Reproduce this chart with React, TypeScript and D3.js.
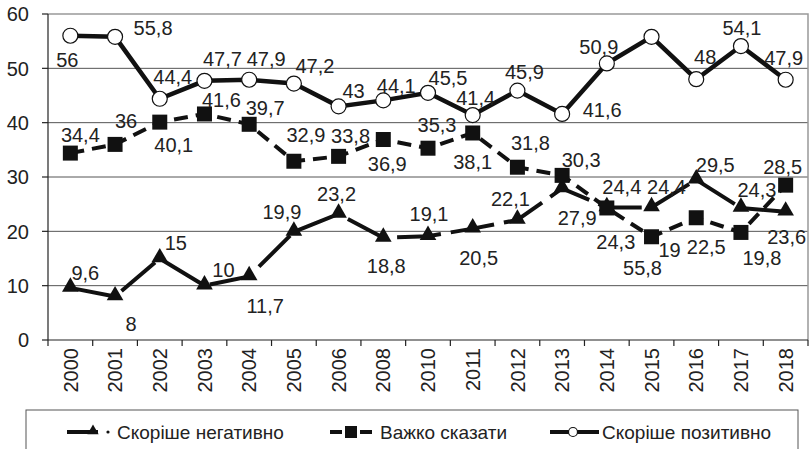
import React from 'react';
import * as d3 from 'd3';

// Survey years (no 2007 / 2009 waves)
const years = [
  '2000', '2001', '2002', '2003', '2004', '2005', '2006', '2008', '2010',
  '2011', '2012', '2013', '2014', '2015', '2016', '2017', '2018',
];

// Series values, %
const negative = [9.6, 8, 15, 10, 11.7, 19.9, 23.2, 18.8, 19.1, 20.5, 22.1, 27.9, 24.4, 24.4, 29.5, 24.3, 23.6];
const hardToSay = [34.4, 36, 40.1, 41.6, 39.7, 32.9, 33.8, 36.9, 35.3, 38.1, 31.8, 30.3, 24.3, 19, 22.5, 19.8, 28.5];
const positive = [56, 55.8, 44.4, 47.7, 47.9, 47.2, 43, 44.1, 45.5, 41.4, 45.9, 41.6, 50.9, 55.8, 48, 54.1, 47.9];

const yTicks = [0, 10, 20, 30, 40, 50, 60];

const legendNames = ['Скоріше негативно', 'Важко сказати', 'Скоріше позитивно'];

// Where each data label sits relative to its point (dx, dy of the text centre)
const negativeLabelPos: [number, number][] = [
  [15, -15], [16, 27], [16, -16], [19, -16], [16, 29], [-12, -20], [-2, -20], [3, 28], [1, -22],
  [6, 29], [-7, -21], [15, 29], [15, -21], [15, -21], [19, -15], [16, -18], [1, 25],
];
const hardLabelPos: [number, number][] = [
  [10, -18], [11, -24], [14, 23], [17, -14], [16, -16], [12, -26], [12, -21], [4, 24], [9, -23],
  [0, 29], [13, -24], [19, -16], [9, 34], [18, 13], [10, 29], [21, 25], [-3, -18],
];
const positiveLabelPos: [number, number][] = [
  [-3, 24], [38, -9], [13, -22], [18, -22], [17, -21], [21, -18], [15, -16], [13, -15], [20, -15],
  [3, -17], [7, -19], [40, -4], [-8, -17], [-9, 231], [9, -22], [1, -18], [-2, -22],
];

const W = 810;
const H = 449;
const plot = { left: 48, right: 808, top: 14, bottom: 340 };
const font = '"Liberation Sans", Arial, sans-serif';

const fmt = (v: number) => String(v).replace('.', ',');

const App: React.FC = () => {
  const x = d3.scaleBand<string>().domain(years).range([plot.left, plot.right]);
  const y = d3.scaleLinear().domain([0, 60]).range([plot.bottom, plot.top]);
  const cx = (i: number) => (x(years[i]) ?? 0) + x.bandwidth() / 2;

  const line = d3.line<number>()
    .x((_, i) => cx(i))
    .y((d) => y(d));

  const triangle = d3.symbol().type(d3.symbolTriangle).size(120)() ?? '';
  const legendTriangle = d3.symbol().type(d3.symbolTriangle).size(55)() ?? '';

  const labels = (vals: number[], pos: [number, number][], key: string) => vals.map((v, i) => (
    <text
      key={`${key}-${i}`}
      x={cx(i) + pos[i][0]}
      y={y(v) + pos[i][1]}
      dy="0.36em"
      textAnchor="middle"
      fontSize={20}
      fill="#222"
    >
      {fmt(v)}
    </text>
  ));

  const legendY = 432;

  return (
    <svg
      width={W}
      height={H}
      style={{ position: 'absolute', left: 0, top: 0, background: '#fff' }}
      fontFamily={font}
    >
      <rect width={W} height={H} fill="#fff" />

      {/* grid */}
      {yTicks.filter((t) => t > 0 && t < 60).map((t) => (
        <line key={t} x1={plot.left} x2={plot.right} y1={y(t)} y2={y(t)} stroke="#555" strokeWidth={1} />
      ))}
      {/* frame: top + right */}
      <path
        d={`M${plot.left},${plot.top}H${plot.right}V${plot.bottom}`}
        fill="none"
        stroke="#999"
        strokeWidth={1.5}
      />

      {/* y axis */}
      <line x1={plot.left} x2={plot.left} y1={plot.top} y2={plot.bottom} stroke="#222" strokeWidth={1.2} />
      {yTicks.map((t) => (
        <g key={t}>
          <line x1={plot.left - 6} x2={plot.left} y1={y(t)} y2={y(t)} stroke="#222" strokeWidth={1.2} />
          <text x={29} y={y(t)} dy="0.36em" textAnchor="end" fontSize={20} fill="#222">{t}</text>
        </g>
      ))}

      {/* x axis */}
      <line x1={plot.left} x2={plot.right} y1={plot.bottom} y2={plot.bottom} stroke="#222" strokeWidth={1.2} />
      {years.map((yr) => (
        <line
          key={yr}
          x1={(x(yr) ?? 0)}
          x2={(x(yr) ?? 0)}
          y1={plot.bottom}
          y2={plot.bottom + 6}
          stroke="#222"
          strokeWidth={1.2}
        />
      ))}
      <line x1={plot.right} x2={plot.right} y1={plot.bottom} y2={plot.bottom + 6} stroke="#222" strokeWidth={1.2} />
      {years.map((yr, i) => (
        <text
          key={yr}
          transform={`translate(${cx(i)},${plot.bottom + 8}) rotate(-90)`}
          dy="0.36em"
          textAnchor="end"
          fontSize={20}
          fill="#222"
        >
          {yr}
        </text>
      ))}

      {/* Скоріше негативно */}
      <path d={line(negative) ?? ''} fill="none" stroke="#111" strokeWidth={4} strokeDasharray="44 10" />
      {negative.map((v, i) => (
        <path key={i} d={triangle} transform={`translate(${cx(i)},${y(v) - 1})`} fill="#111" />
      ))}

      {/* Важко сказати */}
      <path d={line(hardToSay) ?? ''} fill="none" stroke="#111" strokeWidth={4} strokeDasharray="14 8" />
      {hardToSay.map((v, i) => (
        <rect key={i} x={cx(i) - 7.5} y={y(v) - 7.5} width={15} height={15} fill="#111" />
      ))}

      {/* Скоріше позитивно */}
      <path d={line(positive) ?? ''} fill="none" stroke="#111" strokeWidth={4.5} />
      {positive.map((v, i) => (
        <circle key={i} cx={cx(i)} cy={y(v)} r={7.5} fill="#fff" stroke="#111" strokeWidth={1.2} />
      ))}

      {/* data labels */}
      {labels(negative, negativeLabelPos, 'n')}
      {labels(hardToSay, hardLabelPos, 'h')}
      {labels(positive, positiveLabelPos, 'p')}

      {/* legend */}
      <rect x={26} y={410} width={772} height={60} fill="none" stroke="#555" strokeWidth={1} />
      <g>
        <line x1={67} x2={98} y1={legendY} y2={legendY} stroke="#111" strokeWidth={4} />
        <path d={legendTriangle} transform={`translate(93,${legendY - 1})`} fill="#111" />
        <circle cx={108} cy={legendY} r={1.6} fill="#111" />
        <text x={117} y={legendY} dy="0.36em" fontSize={19} fill="#222">{legendNames[0]}</text>
      </g>
      <g>
        <line x1={330} x2={342} y1={legendY} y2={legendY} stroke="#111" strokeWidth={4} />
        <rect x={345} y={legendY - 6} width={12} height={12} fill="#111" />
        <line x1={360} x2={372} y1={legendY} y2={legendY} stroke="#111" strokeWidth={4} />
        <text x={380} y={legendY} dy="0.36em" fontSize={19} fill="#222">{legendNames[1]}</text>
      </g>
      <g>
        <line x1={550} x2={599} y1={legendY} y2={legendY} stroke="#111" strokeWidth={4} />
        <circle cx={573} cy={legendY} r={4.5} fill="#fff" stroke="#111" strokeWidth={1.2} />
        <text x={602} y={legendY} dy="0.36em" fontSize={19} fill="#222">{legendNames[2]}</text>
      </g>
    </svg>
  );
};

export default App;
